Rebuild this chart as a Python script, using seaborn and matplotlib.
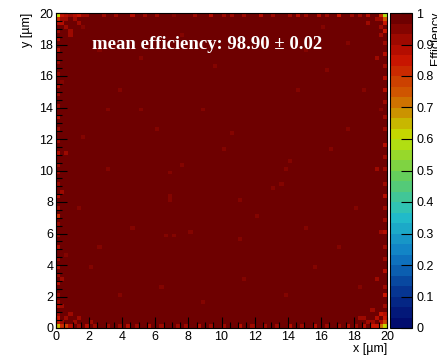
import numpy as np
import matplotlib
matplotlib.use("Agg")
import matplotlib.pyplot as plt
from matplotlib.colors import LinearSegmentedColormap, ListedColormap
import seaborn as sns
import pandas as pd

#################################################
#   DATA    --------------------------------------
#################################################
n_bins = 80            # 0.25 um pixels over 20 um
bin_um = 0.25
base_eff = 0.992       # most pixels sit in the top band

# corners (bin ix, bin iy, efficiency)
corner_ix = [0, 1, 0, 1, 2, 3, 0, 1, 0, 2, 1, 79, 78, 79, 77, 78, 79, 79, 79, 78, 79, 78]
corner_iy = [79, 79, 78, 78, 79, 79, 0, 0, 1, 0, 1, 0, 0, 1, 0, 1, 2, 79, 78, 79, 77, 78]
corner_eff = [0.62, 0.84, 0.82, 0.90, 0.87, 0.90, 0.66, 0.80, 0.85, 0.78, 0.90,
              0.62, 0.70, 0.78, 0.85, 0.88, 0.85, 0.58, 0.75, 0.82, 0.85, 0.90]

# top row
top_ix = [4, 5, 6, 7, 11, 14, 18, 21, 24, 28, 33, 37, 40, 42, 45, 49, 52, 56, 58,
          60, 63, 65, 68, 71, 73, 75]
top_eff = [0.88, 0.86, 0.90, 0.92, 0.90, 0.93, 0.88, 0.92, 0.90, 0.94, 0.91, 0.88,
           0.93, 0.90, 0.92, 0.89, 0.93, 0.90, 0.87, 0.91, 0.88, 0.92, 0.86, 0.90,
           0.93, 0.88]

# bottom row
bottom_ix = [3, 5, 7, 9, 12, 15, 17, 19, 22, 25, 29, 31, 34, 37, 40, 44, 47, 50,
             53, 56, 59, 62, 65, 68, 70, 72, 74, 76]
bottom_eff = [0.88, 0.91, 0.87, 0.92, 0.90, 0.93, 0.89, 0.91, 0.88, 0.93, 0.90,
              0.92, 0.89, 0.93, 0.91, 0.88, 0.92, 0.90, 0.93, 0.89, 0.91, 0.88,
              0.92, 0.90, 0.87, 0.91, 0.89, 0.86]

# left column
left_iy = [2, 3, 5, 6, 8, 11, 13, 15, 17, 20, 23, 26, 28, 30, 33, 36, 39, 41, 44,
           47, 50, 53, 56, 59, 61, 64, 67, 70, 73, 75, 77]
left_eff = [0.86, 0.90, 0.88, 0.92, 0.90, 0.87, 0.93, 0.89, 0.91, 0.88, 0.92, 0.90,
            0.80, 0.91, 0.88, 0.93, 0.90, 0.92, 0.88, 0.91, 0.93, 0.89, 0.92, 0.90,
            0.88, 0.93, 0.91, 0.89, 0.87, 0.90, 0.88]

# right column
right_iy = [3, 5, 8, 10, 14, 17, 20, 24, 27, 30, 33, 36, 40, 43, 46, 50, 53, 57,
            60, 63, 66, 69, 72, 75]
right_eff = [0.88, 0.90, 0.86, 0.92, 0.89, 0.91, 0.93, 0.88, 0.90, 0.92, 0.89,
             0.91, 0.93, 0.90, 0.88, 0.92, 0.90, 0.93, 0.89, 0.87, 0.91, 0.88,
             0.90, 0.84]

# scattered pixels inside the sensor
inner_ix = [42, 30, 27, 27, 27, 56, 55, 54, 44, 26, 28, 32, 44, 10, 15, 20, 60, 65,
            70, 12, 18, 8, 25, 35, 45, 55, 62, 68, 72, 66, 58, 50, 38, 30, 20, 12,
            6, 5, 10, 15, 48, 52, 40, 35, 24, 60, 73, 74, 70, 64, 2, 3, 1, 2, 77,
            76, 78, 77, 1, 2, 78, 77, 5, 8, 3, 73, 75,
            1, 2, 4, 5, 6, 3, 1, 1, 2, 4, 76, 77, 78, 75, 74, 78, 77, 78]
inner_iy = [49, 41, 39, 32, 33, 42, 40, 36, 32, 23, 23, 24, 22, 70, 60, 55, 70, 65,
            50, 40, 25, 15, 10, 6, 12, 8, 15, 20, 30, 45, 60, 72, 66, 74, 68, 55,
            48, 30, 20, 8, 28, 35, 45, 55, 50, 25, 10, 60, 72, 76, 76, 74, 62, 44,
            12, 4, 55, 68, 34, 18, 24, 40, 2, 1, 3, 2, 77,
            77, 78, 78, 77, 76, 75, 12, 5, 2, 1, 1, 2, 3, 1, 2, 76, 78, 74]
inner_eff = [0.95, 0.95, 0.95, 0.95, 0.95, 0.95, 0.95, 0.95, 0.95, 0.95, 0.95,
             0.95, 0.95, 0.95, 0.95, 0.95, 0.95, 0.95, 0.95, 0.95, 0.95, 0.95,
             0.95, 0.95, 0.95, 0.95, 0.95, 0.95, 0.95, 0.95, 0.95, 0.95, 0.95,
             0.95, 0.95, 0.95, 0.95, 0.95, 0.95, 0.95, 0.95, 0.95, 0.95, 0.95,
             0.95, 0.95, 0.95, 0.95, 0.95, 0.95, 0.93, 0.92, 0.94, 0.93, 0.92,
             0.93, 0.94, 0.92, 0.93, 0.94, 0.92, 0.93, 0.92, 0.93, 0.91, 0.92,
             0.90,
             0.88, 0.91, 0.93, 0.92, 0.94, 0.93, 0.92, 0.90, 0.91, 0.93, 0.90,
             0.89, 0.86, 0.92, 0.93, 0.91, 0.92, 0.93]

mean_text = "mean efficiency: 98.90 \u00b1 0.02"

#################################################
#   BUILD MAP    ---------------------------------
#################################################
eff = np.full((n_bins, n_bins), base_eff)   # eff[iy, ix]
for ix, v in zip(top_ix, top_eff):
    eff[79, ix] = v
for ix, v in zip(bottom_ix, bottom_eff):
    eff[0, ix] = v
for iy, v in zip(left_iy, left_eff):
    eff[iy, 0] = v
for iy, v in zip(right_iy, right_eff):
    eff[iy, 79] = v
for ix, iy, v in zip(inner_ix, inner_iy, inner_eff):
    eff[iy, ix] = v
for ix, iy, v in zip(corner_ix, corner_iy, corner_eff):
    eff[iy, ix] = v

df = pd.DataFrame(eff)

# ROOT kRainBow palette, 30 contour levels
r = [0, 5, 15, 35, 102, 196, 208, 199, 110]
g = [0, 48, 124, 192, 206, 226, 97, 16, 0]
b = [99, 142, 198, 201, 90, 0, 0, 0, 0]
stops = np.linspace(0, 1, 9)
rainbow = LinearSegmentedColormap.from_list(
    "rainbow55", [(s, (ri / 255, gi / 255, bi / 255)) for s, ri, gi, bi in zip(stops, r, g, b)])
n_cont = 30
cmap = ListedColormap([rainbow(min((i + 0.99) / n_cont, 1.0)) for i in range(n_cont)])

#################################################
#   PLOT    --------------------------------------
#################################################
W, H = 437, 358
fig = plt.figure(figsize=(W / 100, H / 100), dpi=100)
ax = fig.add_axes([56 / W, 1 - 328 / H, 331 / W, 315 / H])
cax = fig.add_axes([390 / W, 1 - 328 / H, 22 / W, 315 / H])

sns.heatmap(df, ax=ax, cbar_ax=cax, cmap=cmap, vmin=0, vmax=1,
            xticklabels=False, yticklabels=False)
ax.invert_yaxis()

font = "Liberation Sans"
major = np.arange(0, 21, 2)
minor = np.arange(0, 20.01, 0.5)
ax.set_xticks(major / bin_um)
ax.set_xticklabels([str(v) for v in major], family=font, fontsize=9)
ax.set_yticks(major / bin_um)
ax.set_yticklabels([str(v) for v in major], family=font, fontsize=9)
ax.set_xticks(minor / bin_um, minor=True)
ax.set_yticks(minor / bin_um, minor=True)
ax.tick_params(which="major", direction="in", length=8, width=0.8, pad=2, color="black")
ax.tick_params(which="minor", direction="in", length=4, width=0.8, color="black")
ax.set_xlabel("")
ax.set_ylabel("")
for s in ax.spines.values():
    s.set_visible(True)
    s.set_linewidth(0.8)

fig.text(387 / W, 1 - 349 / H, "x [\u00b5m]", ha="right", va="center",
         family=font, fontsize=9)
fig.text(27 / W, 1 - 13 / H, "y [\u00b5m]", ha="center", va="top", rotation=90,
         family=font, fontsize=9)

ax.text(2.2 / bin_um, 18.0 / bin_um, mean_text, color="white", fontsize=13.5,
        fontweight="bold", family="Liberation Serif", ha="left", va="center")

cbar = ax.collections[0].colorbar
cbar.set_ticks(np.arange(0, 1.01, 0.1))
cbar.set_ticklabels(["0", "0.1", "0.2", "0.3", "0.4", "0.5", "0.6", "0.7", "0.8", "0.9", "1"])
cax.tick_params(direction="in", length=8, width=0.8, pad=3, labelsize=9)
for lab in cax.get_yticklabels():
    lab.set_family(font)
cbar.outline.set_linewidth(0.8)
fig.text(436 / W, 1 - 12 / H, "Efficiency", ha="center", va="top", rotation=90,
         family=font, fontsize=9)

fig.savefig("out.png", dpi=100)
